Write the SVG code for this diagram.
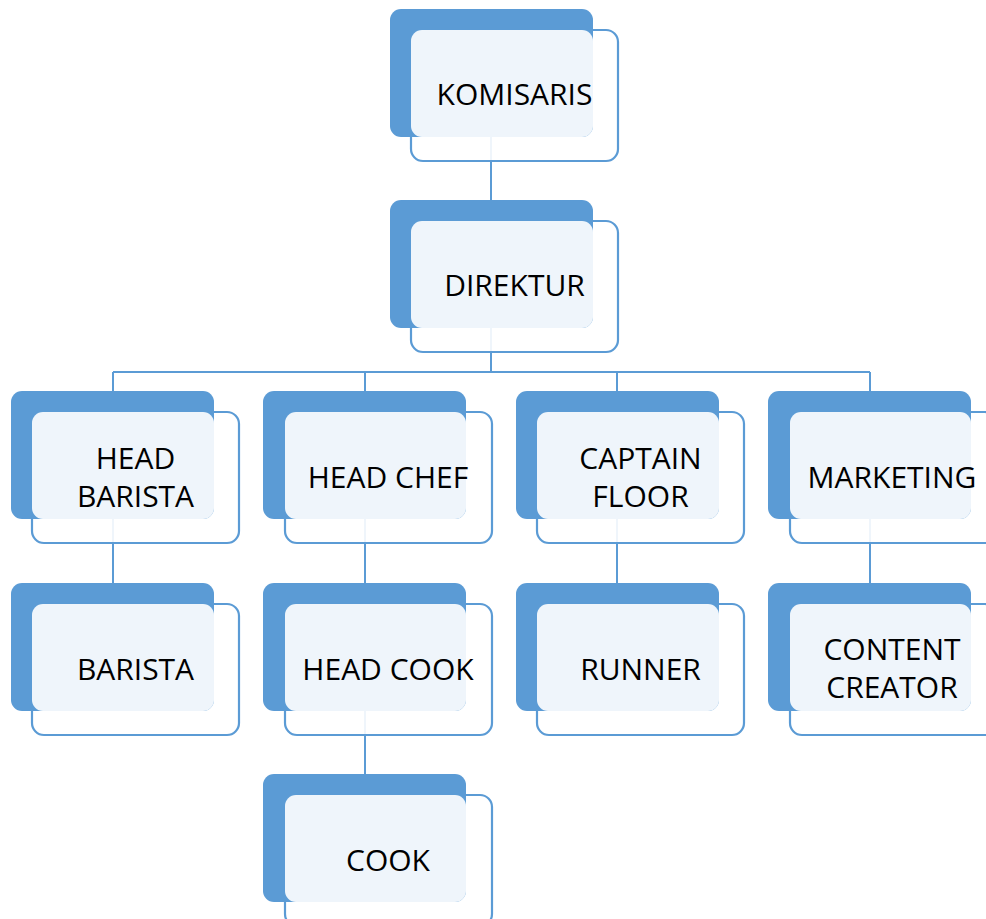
<svg xmlns="http://www.w3.org/2000/svg" width="986" height="919" viewBox="0 0 986 919">
<style>
.conn{stroke:#5B9BD5;stroke-width:2;fill:none}
.back{fill:#5B9BD5}
.front{fill:#FFFFFF;fill-opacity:0.9;stroke:#5B9BD5;stroke-width:2.2}
.tb{fill:#FFFFFF;fill-opacity:0.9}
text{font-family:"Open Sans","Liberation Sans",sans-serif;font-size:30px;fill:#000;text-anchor:middle}
</style>
<rect width="986" height="919" fill="#FFFFFF"/>
<g id="connectors">
<path class="conn" d="M491,137V200"/>
<path class="conn" d="M491,328V372M113,372H870M113,372V391M365,372V391M617,372V391M870,372V391"/>
<path class="conn" d="M113,519V583M365,519V583M617,519V583M870,519V583"/>
<path class="conn" d="M365,711V774"/>
</g>
<g id="komisaris">
<rect class="front" x="411" y="30" width="207" height="131" rx="12"/>
<rect class="back" x="390" y="9" width="203" height="128" rx="11"/>
<rect class="tb" x="411" y="30" width="182" height="107" rx="11"/>
<text x="514.5" y="105">KOMISARIS</text>
</g>
<g id="direktur">
<rect class="front" x="411" y="221" width="207" height="131" rx="12"/>
<rect class="back" x="390" y="200" width="203" height="128" rx="11"/>
<rect class="tb" x="411" y="221" width="182" height="107" rx="11"/>
<text x="514.5" y="296">DIREKTUR</text>
</g>
<g id="head-barista">
<rect class="front" x="32" y="412" width="207" height="131" rx="12"/>
<rect class="back" x="11" y="391" width="203" height="128" rx="11"/>
<rect class="tb" x="32" y="412" width="182" height="107" rx="11"/>
<text x="135.5" y="469">HEAD</text>
<text x="135.5" y="507">BARISTA</text>
</g>
<g id="head-chef">
<rect class="front" x="285" y="412" width="207" height="131" rx="12"/>
<rect class="back" x="263" y="391" width="203" height="128" rx="11"/>
<rect class="tb" x="285" y="412" width="181" height="107" rx="11"/>
<text x="388" y="488">HEAD CHEF</text>
</g>
<g id="captain-floor">
<rect class="front" x="537" y="412" width="207" height="131" rx="12"/>
<rect class="back" x="516" y="391" width="203" height="128" rx="11"/>
<rect class="tb" x="537" y="412" width="182" height="107" rx="11"/>
<text x="640.5" y="469">CAPTAIN</text>
<text x="640.5" y="507">FLOOR</text>
</g>
<g id="marketing">
<rect class="front" x="790" y="412" width="207" height="131" rx="12"/>
<rect class="back" x="768" y="391" width="203" height="128" rx="11"/>
<rect class="tb" x="790" y="412" width="181" height="107" rx="11"/>
<text x="892" y="488">MARKETING</text>
</g>
<g id="barista">
<rect class="front" x="32" y="604" width="207" height="131" rx="12"/>
<rect class="back" x="11" y="583" width="203" height="128" rx="11"/>
<rect class="tb" x="32" y="604" width="182" height="107" rx="11"/>
<text x="135.5" y="680">BARISTA</text>
</g>
<g id="head-cook">
<rect class="front" x="285" y="604" width="207" height="131" rx="12"/>
<rect class="back" x="263" y="583" width="203" height="128" rx="11"/>
<rect class="tb" x="285" y="604" width="181" height="107" rx="11"/>
<text x="388" y="680">HEAD COOK</text>
</g>
<g id="runner">
<rect class="front" x="537" y="604" width="207" height="131" rx="12"/>
<rect class="back" x="516" y="583" width="203" height="128" rx="11"/>
<rect class="tb" x="537" y="604" width="182" height="107" rx="11"/>
<text x="640.5" y="680">RUNNER</text>
</g>
<g id="content-creator">
<rect class="front" x="790" y="604" width="207" height="131" rx="12"/>
<rect class="back" x="768" y="583" width="203" height="128" rx="11"/>
<rect class="tb" x="790" y="604" width="181" height="107" rx="11"/>
<text x="892" y="660">CONTENT</text>
<text x="892" y="698">CREATOR</text>
</g>
<g id="cook">
<rect class="front" x="285" y="795" width="207" height="131" rx="12"/>
<rect class="back" x="263" y="774" width="203" height="128" rx="11"/>
<rect class="tb" x="285" y="795" width="181" height="107" rx="11"/>
<text x="388" y="871">COOK</text>
</g>
</svg>
